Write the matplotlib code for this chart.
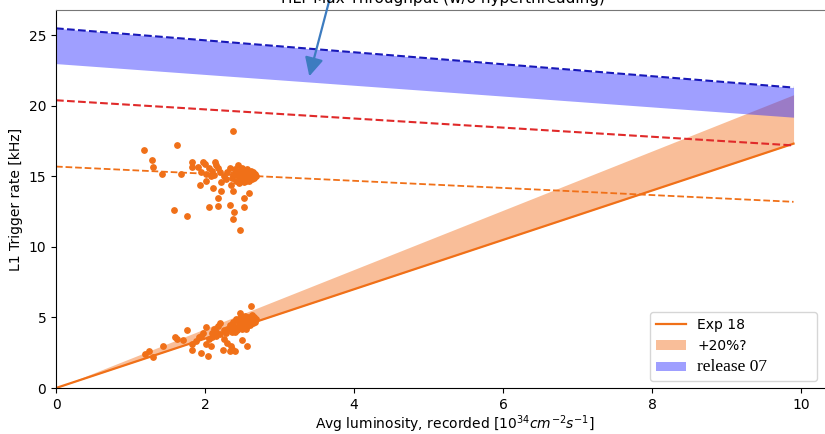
import numpy as np
import matplotlib
matplotlib.use("Agg")
import matplotlib.pyplot as plt
from matplotlib.font_manager import FontProperties


# data

lumi_end = 9.9

# release 07 band (upper dashed edge, lower edge)
rel07_upper = [25.5, 21.3]
rel07_lower = [23.0, 19.2]
# red dashed
red_line = [20.4, 17.2]
# orange dashed
orange_dashed = [15.7, 13.2]
# Exp 18 fit slope and +20% band
exp18_slope = 1.75
band_factor = 1.2

upper_x = [1.18, 1.63, 2.38, 1.29, 1.30, 1.42, 1.68, 1.93, 1.58, 1.76, 2.06, 2.17,
           2.11, 2.18, 2.21, 2.33, 2.39, 2.38, 2.47, 2.53, 2.52, 2.59, 2.37, 2.02,
           1.82, 1.83, 1.97, 2.13, 2.02,
           2.30, 2.33, 2.36, 2.38, 2.40, 2.41, 2.43, 2.44, 2.45, 2.46, 2.48, 2.49,
           2.50, 2.51, 2.52, 2.53, 2.54, 2.55, 2.56, 2.57, 2.58, 2.59, 2.60, 2.61,
           2.62, 2.63, 2.64, 2.65, 2.66, 2.67, 2.68, 2.45, 2.50, 2.55, 2.47,
           2.05, 2.10, 2.15, 2.20, 2.25, 2.08, 1.90, 1.95, 2.00, 2.22, 2.28, 2.35,
           2.18, 2.12]
upper_y = [16.9, 17.2, 18.2, 16.2, 15.7, 15.2, 15.2, 14.4, 12.6, 12.2, 12.8, 12.9,
           14.2, 13.5, 14.0, 13.0, 12.5, 12.0, 11.2, 12.8, 13.5, 13.8, 14.0, 14.7,
           16.0, 15.7, 16.0, 16.0, 15.2,
           15.3, 15.6, 14.9, 15.2, 15.5, 14.7, 15.1, 15.8, 14.5, 15.3, 15.0, 15.6,
           14.8, 15.2, 15.4, 14.6, 15.0, 15.3, 14.9, 15.5, 15.1, 14.7, 15.2, 15.0,
           15.4, 14.8, 15.1, 15.3, 14.9, 15.2, 15.0, 15.0, 15.1, 14.7, 15.4,
           15.6, 15.4, 15.8, 15.3, 15.0, 15.0, 15.7, 15.3, 15.9, 14.6, 14.8, 14.4,
           15.6, 15.1]

lower_x = [1.19, 1.30, 1.44, 1.60, 1.63, 1.76, 1.82, 1.83, 1.95, 2.04, 2.02, 2.08,
           1.97, 2.02, 2.20, 2.24, 2.26, 2.33, 2.36, 2.40, 2.56, 2.50, 2.62, 2.47,
           2.15, 2.09, 1.95, 1.25, 1.70,
           2.30, 2.33, 2.36, 2.38, 2.40, 2.42, 2.43, 2.45, 2.46, 2.48, 2.49, 2.50,
           2.51, 2.52, 2.53, 2.54, 2.55, 2.56, 2.57, 2.58, 2.59, 2.60, 2.61, 2.62,
           2.63, 2.64, 2.65, 2.66, 2.67, 2.68, 2.45, 2.50, 2.55, 2.40, 2.35,
           2.10, 2.15, 2.20, 2.25, 2.28, 2.05, 2.12, 1.88, 1.92, 2.18, 2.30, 2.35]
lower_y = [2.4, 2.2, 3.0, 3.6, 3.5, 4.1, 2.7, 3.1, 2.5, 2.3, 3.1, 3.0,
           3.9, 4.3, 4.6, 2.7, 3.5, 2.6, 2.8, 2.6, 3.0, 3.4, 5.8, 5.3,
           3.7, 3.9, 3.7, 2.6, 3.4,
           4.2, 4.5, 4.0, 4.7, 4.3, 4.9, 4.1, 4.6, 4.4, 5.0, 4.2, 4.7,
           4.5, 4.9, 4.3, 5.1, 4.6, 4.8, 4.4, 5.0, 4.7, 4.5, 4.9, 4.6,
           5.2, 4.8, 4.6, 5.0, 4.7, 4.9, 4.9, 4.4, 4.2, 4.0, 4.4,
           3.6, 4.0, 3.8, 4.1, 3.9, 3.5, 4.2, 3.3, 3.6, 4.4, 3.2, 3.0]


# Figure

fig = plt.figure(figsize=(8.25, 4.34), dpi=100)
# axes runs past the right edge of the (cropped) picture
ax = fig.add_axes([56/825, 46/434, 10.7*74.5/825, 378/434])

orange = '#f07018'
x_ends = [0, lumi_end]
xs = np.array(x_ends)

ax.fill_between(xs, exp18_slope*xs, band_factor*exp18_slope*xs,
                color='#f58a45', alpha=0.55, lw=0, label='+20%?')
ax.fill_between(x_ends, rel07_lower, rel07_upper,
                color='#2a2aff', alpha=0.45, lw=0, label='release 07')
ax.plot(xs, exp18_slope*xs, color=orange, lw=1.6, label='Exp 18')
ax.plot(x_ends, rel07_upper, '--', color='#1818b8', lw=1.5)
ax.plot(x_ends, red_line, '--', color='#e02a2a', lw=1.5)
ax.plot(x_ends, orange_dashed, '--', color=orange, lw=1.3)

ax.scatter(upper_x, upper_y, s=15, color=orange, zorder=3)
ax.scatter(lower_x, lower_y, s=15, color=orange, zorder=3)

ax.set_xlim(0, 10.7)
ax.set_ylim(0, 26.8)
ax.set_xticks([0, 2, 4, 6, 8, 10])
ax.set_yticks([0, 5, 10, 15, 20, 25])
ax.tick_params(labelsize=10)
ax.set_xlabel(r'Avg luminosity, recorded [$10^{34} cm^{-2} s^{-1}$]', fontsize=10, labelpad=1)
ax.set_ylabel('L1 Trigger rate [kHz]', fontsize=10)
ax.spines['top'].set_color('#777777')

handles, labels = ax.get_legend_handles_labels()
order = [labels.index('Exp 18'), labels.index('+20%?'), labels.index('release 07')]
leg_labels = [labels[i] for i in order]
leg_labels[2] = leg_labels[2] + '          '   # the box in the picture runs past the text
leg = ax.legend([handles[i] for i in order], leg_labels,
                loc='lower left', bbox_to_anchor=(650/825, 53/434),
                bbox_transform=fig.transFigure, fontsize=10, borderaxespad=0,
                handlelength=2.2)
leg.get_texts()[0].set_fontproperties(FontProperties(family='DejaVu Sans', size=10))
leg.get_texts()[1].set_fontproperties(FontProperties(family='DejaVu Sans', size=10))
leg.get_texts()[2].set_fontproperties(FontProperties(family='Liberation Serif', size=12.5))

# slide overlay: clipped title and arrow
fig.text(443/825, 431/434, 'HLT Max Throughput (w/o hyperthreading)',
         ha='center', va='baseline', fontsize=11)
ax.annotate('', xy=(3.4, 22.1), xycoords='data',
            xytext=(331, 440), textcoords='figure pixels',
            arrowprops=dict(arrowstyle='-|>', color='#3d7cc0', lw=1.6,
                            mutation_scale=28, shrinkA=0, shrinkB=0),
            annotation_clip=False)

fig.savefig('out.png', dpi=100)
